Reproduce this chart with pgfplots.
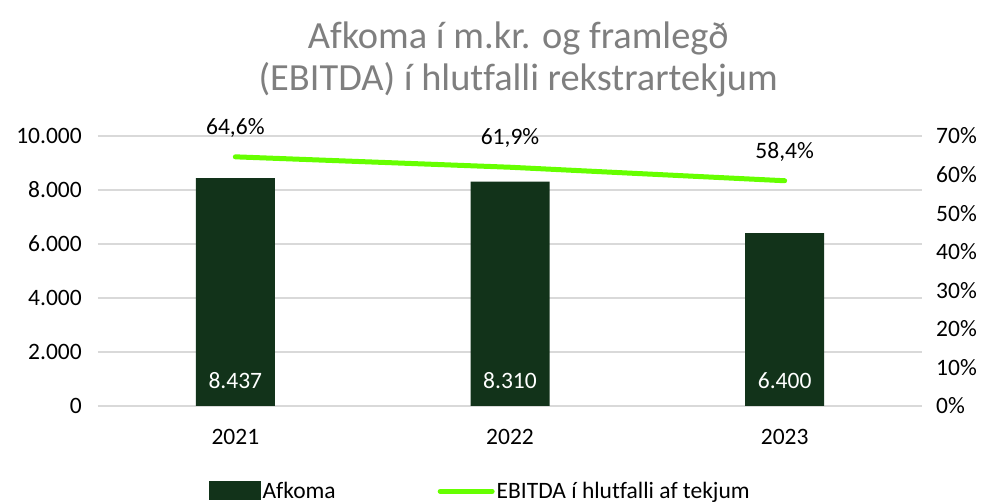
\documentclass[border=0pt]{standalone}
\usepackage{fontspec}
\setmainfont[Ligatures=NoCommon]{Carlito}
\usepackage{pgfplots}
\pgfplotsset{compat=1.18}
\definecolor{bargreen}{HTML}{12331A}
\definecolor{linegreen}{HTML}{66FF00}
\definecolor{gridgray}{HTML}{D9D9D9}
\definecolor{titlegray}{HTML}{7F7F7F}
\newcommand{\tfont}{\fontsize{23.5}{27}\selectfont}
\begin{document}
\begin{tikzpicture}
\path[use as bounding box] (-98pt,-97pt) rectangle (891pt,406pt);
\begin{axis}[
  at={(0pt,0pt)}, anchor=south west, scale only axis,
  width=824pt, height=270pt,
  xmin=-0.5, xmax=2.5, ymin=0, ymax=10000,
  xtick={0,1,2}, xticklabels={2021,2022,2023},
  ytick={0,2000,...,10000},
  scaled y ticks=false,
  ymajorgrids, grid style={gridgray, line width=1.3pt},
  axis line style={draw=none}, major tick length=0pt,
  tick label style={font=\tfont, text=black},
  yticklabel style={inner sep=0pt, xshift=-16pt},
  xticklabel style={inner sep=0pt, anchor=base, yshift=-38.5pt},
  /pgf/number format/assume math mode=true,
  /pgf/number format/1000 sep={.},
  clip=false,
]
\addplot[ybar, bar width=79pt, bar shift=0pt, fill=bargreen, draw=none] coordinates {(0,8437) (1,8310) (2,6400)};
\addplot[draw=none, mark=none, point meta=explicit,
  nodes near coords={\pgfmathprintnumber[1000 sep={.}]{\pgfplotspointmeta}},
  nodes near coords style={text=white, anchor=base, inner sep=0pt, font=\tfont}]
  table[meta=v] {
x y v
0 648 8437
1 648 8310
2 648 6400
};
\node[align=center, font=\fontsize{38.4}{42}\selectfont, text=titlegray] at (rel axis cs:0.51,1.285) {Afkoma í m.kr. og framlegð\\(EBITDA) í hlutfalli rekstrartekjum};
\end{axis}
\begin{axis}[
  at={(0pt,0pt)}, anchor=south west, scale only axis,
  width=824pt, height=270pt,
  xmin=-0.5, xmax=2.5, ymin=0, ymax=70,
  axis y line*=right, axis x line=none,
  xtick=\empty, ytick={0,10,...,70},
  yticklabel={\pgfmathprintnumber{\tick}\%},
  axis line style={draw=none}, major tick length=0pt,
  tick label style={font=\tfont, text=black},
  yticklabel style={inner sep=0pt, xshift=14pt},
  /pgf/number format/assume math mode=true,
  clip=false,
  legend columns=2,
  legend style={at={(rel axis cs:0.1347,-0.316)}, anchor=west, draw=none, fill=none, inner sep=0pt, font=\tfont,
    /tikz/every even column/.append style={column sep=100pt}},
  legend cell align=left,
]
\addlegendimage{legend image code/.code={\fill[bargreen] (0pt,-8pt) rectangle (51pt,10pt);}}
\addlegendentry{Afkoma}
\addplot[linegreen, line width=5pt, line cap=round,
  legend image code/.code={\draw[linegreen, line width=5pt, line cap=round] (0pt,0pt) -- (52pt,0pt);},
  nodes near coords={\pgfmathprintnumber[fixed,precision=1,fixed zerofill,use comma]{\pgfplotspointmeta}\%},
  nodes near coords style={text=black, anchor=base, yshift=22.5pt, inner sep=0pt, font=\tfont}]
  coordinates {(0,64.6) (1,61.9) (2,58.4)};
\addlegendentry{EBITDA í hlutfalli af tekjum}
\end{axis}
\end{tikzpicture}
\end{document}
